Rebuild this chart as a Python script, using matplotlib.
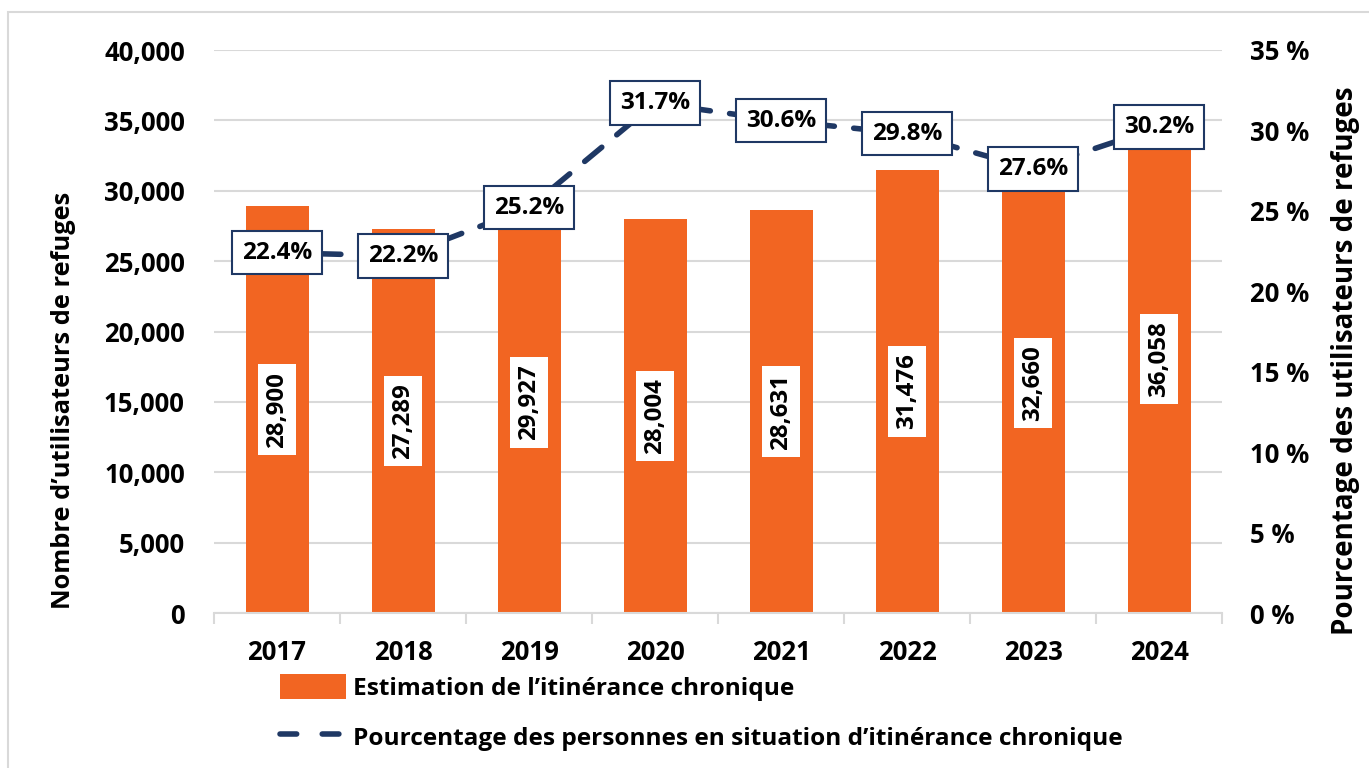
import numpy as np
import matplotlib.pyplot as plt
from matplotlib.patches import Rectangle, Patch
from matplotlib.lines import Line2D

# DATA
years = ["2017", "2018", "2019", "2020", "2021", "2022", "2023", "2024"]
chronic = [28900, 27289, 29927, 28004, 28631, 31476, 32660, 36058]
pct = [22.4, 22.2, 25.2, 31.7, 30.6, 29.8, 27.6, 30.2]

ORANGE = "#F26522"
NAVY = "#1F3864"
GRID = "#D9D9D9"

plt.rcParams["font.family"] = ["Open Sans", "DejaVu Sans"]
plt.rcParams["font.weight"] = "bold"

W, H = 1369, 768
fig = plt.figure(figsize=(W / 100, H / 100), dpi=100)

# outer frame
fig.patches.append(Rectangle((8 / W, -0.1), 1.2, 1 - 12 / H + 0.1,
                             transform=fig.transFigure, fill=False,
                             edgecolor=GRID, linewidth=1.5))

ax = fig.add_axes([214 / W, 1 - 613 / H, 1008 / W, 563 / H])
x = np.arange(len(years))

ax.bar(x, chronic, width=0.5, color=ORANGE, zorder=2)
ax.set_ylim(0, 40000)
ax.set_xlim(-0.5, len(years) - 0.5)
ax.set_yticks(np.arange(0, 40001, 5000))
ax.set_yticklabels([f"{v:,}" for v in range(0, 40001, 5000)],
                   fontsize=18.5, fontweight="bold")
ax.yaxis.grid(True, color=GRID, linewidth=1.5, zorder=0)
ax.set_axisbelow(True)
ax.set_xticks(x)
ax.set_xticklabels(years, fontsize=18.5, fontweight="bold")
ax.tick_params(axis="x", length=0, pad=19)
ax.tick_params(axis="y", length=0, pad=21)
# category boundary ticks
ax.set_xticks(np.arange(-0.5, len(years)), minor=True)
ax.tick_params(axis="x", which="minor", length=8, color=GRID, width=1.5)
for s in ["top", "right", "left"]:
    ax.spines[s].set_visible(False)
ax.spines["bottom"].set_color(GRID)
ax.spines["bottom"].set_linewidth(1.5)

fig.text(64 / W, 1 - 400 / H, "Nombre d\u2019utilisateurs de refuges",
         rotation=90, ha="center", va="center", fontsize=18.3, fontweight="bold")
fig.text(1346 / W, 1 - 361 / H, "Pourcentage des utilisateurs de refuges",
         rotation=90, ha="center", va="center", fontsize=20, fontweight="bold")

for xi, v in zip(x, chronic):
    ax.text(xi, v / 2, f"{v:,}", rotation=90, ha="center", va="center",
            fontsize=17.4, fontweight="bold", zorder=4,
            bbox=dict(boxstyle="square,pad=0.3", facecolor="white", edgecolor="none"))

ax2 = ax.twinx()
ax2.set_ylim(0, 35)
ax2.set_yticks(np.arange(0, 36, 5))
ax2.set_yticklabels([f"{v} %" for v in range(0, 36, 5)],
                    fontsize=18.5, fontweight="bold")
ax2.tick_params(axis="y", length=0, pad=20)
for s in ax2.spines.values():
    s.set_visible(False)

ax2.plot(x, pct, color=NAVY, linewidth=4, linestyle=(0, (4, 3.5)),
         dash_capstyle="round", zorder=3)
for xi, p in zip(x, pct):
    ax2.text(xi, p, f"{p}%", ha="center", va="center", fontsize=17.5,
             fontweight="bold", zorder=5,
             bbox=dict(boxstyle="square,pad=0.4", facecolor="white",
                       edgecolor=NAVY, linewidth=1.5))

handles = [Patch(facecolor=ORANGE, edgecolor="none"),
           Line2D([0], [0], color=NAVY, linewidth=4, linestyle=(0, (3, 4.6)),
                  dash_capstyle="round")]
labels = ["Estimation de l\u2019itinérance chronique",
          "Pourcentage des personnes en situation d\u2019itinérance chronique"]
fig.legend(handles, labels, loc="upper left",
           bbox_to_anchor=(258 / W, 1 - 652 / H), frameon=False,
           prop=dict(size=17.6, weight="bold"), handlelength=2.7,
           handleheight=1.2, handletextpad=0.3, labelspacing=0.95)

plt.savefig("out.png", dpi=100)
